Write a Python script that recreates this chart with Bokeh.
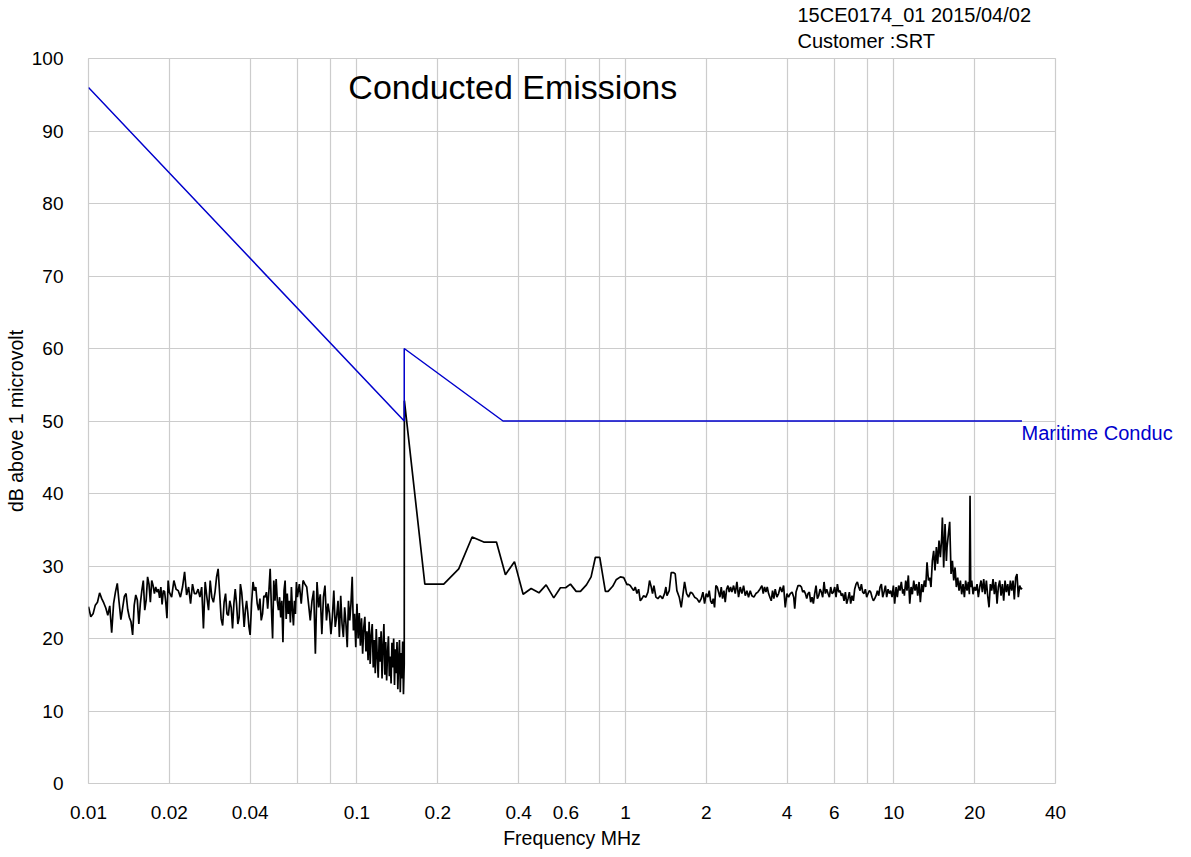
from bokeh.plotting import figure
from bokeh.models import FixedTicker, Label, Range1d, LinearAxis, Title
from bokeh.embed import file_html
from bokeh.resources import INLINE

# ---------------- data ----------------
# Limit line: Maritime conducted emissions
limit_freq_mhz = [0.01, 0.15, 0.15, 0.35, 30.0]
limit_level_db = [96.0, 50.0, 60.0, 50.0, 50.0]

# Measured scan, 10 kHz - 150 kHz
scan_freq_low = [
    0.0100, 0.0102, 0.0104, 0.0106, 0.0108, 0.0110, 0.0112, 0.0114, 0.0116, 0.0118,
    0.0120, 0.0122, 0.0124, 0.0126, 0.0128, 0.0130, 0.0132, 0.0134, 0.0136, 0.0138,
    0.0140, 0.0142, 0.0144, 0.0146, 0.0148, 0.0150, 0.0152, 0.0154, 0.0156, 0.0158,
    0.0160, 0.0162, 0.0164, 0.0166, 0.0168, 0.0170, 0.0172, 0.0174, 0.0176, 0.0178,
    0.0180, 0.0182, 0.0184, 0.0186, 0.0188, 0.0190, 0.0192, 0.0194, 0.0196, 0.0198,
    0.0200, 0.0204, 0.0208, 0.0212, 0.0216, 0.0220, 0.0224, 0.0228, 0.0232, 0.0236,
    0.0240, 0.0244, 0.0248, 0.0252, 0.0256, 0.0260, 0.0264, 0.0268, 0.0272, 0.0276,
    0.0280, 0.0284, 0.0288, 0.0292, 0.0296, 0.0300, 0.0304, 0.0308, 0.0312, 0.0316,
    0.0320, 0.0324, 0.0328, 0.0332, 0.0336, 0.0340, 0.0344, 0.0348, 0.0352, 0.0356,
    0.0360, 0.0364, 0.0368, 0.0372, 0.0376, 0.0380, 0.0384, 0.0388, 0.0392, 0.0396,
    0.0400, 0.0405, 0.0410, 0.0415, 0.0420, 0.0425, 0.0430, 0.0435, 0.0440, 0.0445,
    0.0450, 0.0455, 0.0460, 0.0465, 0.0470, 0.0475, 0.0480, 0.0485, 0.0490, 0.0495,
    0.0500, 0.0505, 0.0510, 0.0515, 0.0520, 0.0525, 0.0530, 0.0535, 0.0540, 0.0545,
    0.0550, 0.0555, 0.0560, 0.0565, 0.0570, 0.0575, 0.0580, 0.0585, 0.0590, 0.0595,
    0.060, 0.061, 0.062, 0.063, 0.064, 0.065, 0.066, 0.067, 0.068, 0.069,
    0.070, 0.071, 0.072, 0.073, 0.074, 0.075, 0.076, 0.077, 0.078, 0.079,
    0.080, 0.081, 0.082, 0.083, 0.084, 0.085, 0.086, 0.087, 0.088, 0.089,
    0.090, 0.091, 0.092, 0.093, 0.094, 0.095, 0.096, 0.097, 0.098, 0.099,
    0.100, 0.101, 0.102, 0.103, 0.104, 0.105, 0.106, 0.107, 0.108, 0.109,
    0.110, 0.111, 0.112, 0.113, 0.114, 0.115, 0.116, 0.117, 0.118, 0.119,
    0.120, 0.121, 0.122, 0.123, 0.124, 0.125, 0.126, 0.127, 0.128, 0.129,
    0.130, 0.131, 0.132, 0.133, 0.134, 0.135, 0.136, 0.137, 0.138, 0.139,
    0.140, 0.141, 0.142, 0.143, 0.144, 0.145, 0.146, 0.147, 0.148, 0.149,
    0.150,
]
scan_level_low = [
    24.4, 23.0, 23.4, 24.6, 25.0, 26.3, 25.5, 24.9, 24.2, 23.2,
    24.5, 20.8, 24.8, 26.4, 27.6, 25.0, 22.6, 24.2, 25.8, 26.2,
    24.0, 22.9, 22.3, 20.5, 24.6, 26.0, 25.3, 22.0, 24.8, 26.6,
    28.0, 23.9, 25.3, 28.5, 27.5, 25.0, 28.0, 27.3, 26.2, 27.1,
    26.4, 26.8, 25.6, 27.1, 24.7, 26.6, 26.5, 25.0, 22.8, 28.0,
    26.4, 25.7, 28.0, 26.8, 26.6, 25.7, 27.1, 29.2, 26.0, 27.1,
    24.8, 27.5, 26.2, 26.2, 26.8, 25.7, 27.1, 21.4, 27.8, 25.7,
    23.9, 28.0, 25.7, 25.0, 26.4, 28.5, 29.6, 26.2, 22.7, 21.8,
    25.0, 26.2, 23.4, 23.2, 25.2, 24.3, 21.4, 24.8, 26.8, 24.8,
    22.0, 22.9, 27.5, 26.4, 24.3, 21.6, 23.9, 25.2, 23.6, 21.6,
    20.5, 24.8, 27.8, 26.6, 27.1, 24.8, 23.9, 25.5, 22.5, 23.4,
    25.9, 25.7, 26.4, 24.1, 26.6, 29.6, 24.3, 20.0, 28.0, 25.2,
    28.2, 25.2, 23.9, 25.7, 22.9, 25.2, 19.5, 26.6, 28.0, 22.7,
    26.2, 23.4, 25.2, 22.2, 27.1, 23.9, 21.8, 25.2, 23.4, 27.8,
    25.7, 27.5, 24.8, 28.0, 27.5, 27.1, 24.8, 22.5, 25.2, 26.6,
    17.9, 27.8, 24.3, 26.1, 20.6, 25.7, 27.3, 22.5, 24.8, 23.4,
    20.6, 23.0, 26.6, 21.6, 23.0, 25.2, 20.2, 25.9, 22.0, 20.2,
    24.3, 22.0, 18.8, 25.2, 22.5, 24.8, 28.5, 21.1, 23.4, 18.8,
    24.8, 20.0, 23.5, 19.0, 22.8, 17.9, 21.5, 23.0, 18.2, 21.0,
    17.0, 22.3, 16.5, 20.5, 22.0, 16.0, 19.8, 15.2, 21.3, 17.5,
    14.6, 20.2, 16.8, 21.0, 14.5, 18.9, 22.0, 15.0, 19.5, 14.2,
    18.0, 20.3, 14.8, 17.5, 13.8, 19.4, 16.0, 20.0, 13.6, 18.5,
    15.2, 19.5, 13.0, 17.0, 19.8, 12.6, 18.0, 14.5, 19.6, 12.3,
    16.5,
]

# Measured scan, 150 kHz - 1 MHz
scan_freq_mid = [
    0.1502, 0.179, 0.2105, 0.2394, 0.2685, 0.2967, 0.3308, 0.3573, 0.3861, 0.4159,
    0.4455, 0.4763, 0.5065, 0.5408, 0.5727, 0.5986, 0.6240, 0.6553, 0.680, 0.7158,
    0.7450, 0.7730, 0.8024, 0.8421, 0.862, 0.8966, 0.9235, 0.9581, 0.9856, 1.0146,
]
scan_level_mid = [
    52.8, 27.5, 27.5, 29.6, 34.0, 33.3, 33.3, 28.8, 30.6, 26.1,
    26.9, 26.3, 27.4, 25.6, 27.0, 27.0, 27.5, 26.5, 26.5, 27.4,
    28.5, 31.2, 31.2, 26.5, 26.5, 27.2, 28.1, 28.5, 28.4, 27.4,
]

# Measured scan, 1 MHz - 30 MHz
scan_freq_high = [
    1.022, 1.042, 1.073, 1.088, 1.104, 1.120, 1.136, 1.152, 1.169, 1.192,
    1.213, 1.230, 1.248, 1.262, 1.277, 1.299, 1.321, 1.348, 1.375, 1.399,
    1.415, 1.428, 1.456, 1.481, 1.512, 1.533, 1.555, 1.587, 1.614, 1.633,
    1.661, 1.690, 1.719, 1.749, 1.779, 1.810, 1.846, 1.884, 1.916, 1.944,
    1.972, 2.000, 2.029, 2.052, 2.076, 2.100, 2.124, 2.148, 2.173, 2.198,
    2.223, 2.249, 2.275, 2.301, 2.328, 2.354, 2.382, 2.409, 2.436, 2.464,
    2.492, 2.529, 2.565, 2.602, 2.639, 2.677, 2.716, 2.755, 2.795, 2.835,
    2.875, 2.917, 2.958, 3.010, 3.062, 3.115, 3.169, 3.224, 3.261, 3.298,
    3.337, 3.375, 3.414, 3.453, 3.493, 3.533, 3.573, 3.614, 3.666, 3.720,
    3.773, 3.827, 3.883, 3.939, 3.996, 4.053, 4.112,
    4.176, 4.236, 4.273, 4.321, 4.396, 4.472, 4.524, 4.576, 4.628, 4.682,
    4.736, 4.789, 4.845, 4.901, 4.956, 5.013, 5.071, 5.129, 5.188, 5.248,
    5.309, 5.370, 5.431, 5.494, 5.557, 5.621, 5.686, 5.751, 5.817, 5.884,
    5.952, 6.020, 6.089, 6.160, 6.230, 6.302, 6.375, 6.447, 6.522, 6.597,
    6.672, 6.749, 6.827, 6.905, 6.984, 7.065, 7.145, 7.228, 7.311, 7.396,
    7.482, 7.568, 7.654, 7.743, 7.832, 7.921, 8.013, 8.106, 8.198, 8.293,
    8.389, 8.484, 8.582, 8.682, 8.780, 8.882, 8.985, 9.087, 9.192, 9.299,
    9.404, 9.513, 9.623, 9.732, 9.845, 9.959, 10.07, 10.19, 10.30, 10.42,
    10.54, 10.66, 10.79, 10.91,
    10.94, 11.07, 11.19, 11.32, 11.46, 11.59, 11.72, 11.86, 11.99, 12.13,
    12.27, 12.41, 12.55, 12.70, 12.84, 12.99, 13.14, 13.29, 13.45, 13.60,
    13.75, 13.91, 14.07, 14.23, 14.40, 14.56, 14.73, 14.90, 15.07, 15.16,
    15.33, 15.51, 15.69, 15.78, 15.96, 16.14, 16.33, 16.52, 16.71, 16.90,
    17.09, 17.29, 17.49, 17.69, 17.89, 18.10, 18.31, 18.51, 18.73, 18.94,
    19.11, 19.22, 19.33, 19.50, 19.72, 19.95, 20.18, 20.41, 20.64, 20.88,
    21.12, 21.36, 21.61, 21.86, 22.11, 22.36, 22.62, 22.88, 23.14, 23.41,
    23.68, 23.95, 24.23, 24.50, 24.79, 25.07, 25.36, 25.65, 25.95, 26.24,
    26.55, 26.85, 27.16, 27.47, 27.79, 28.10, 28.43, 28.75, 29.08, 29.42,
    29.76, 30.00,
]
scan_level_high = [
    27.5, 27.3, 26.6, 27.1, 26.2, 26.8, 25.2, 25.5, 25.9, 25.7,
    26.4, 28.0, 27.1, 26.2, 27.3, 25.7, 25.5, 25.9, 25.5, 26.2,
    27.1, 25.9, 26.6, 29.1, 29.1, 28.9, 26.6, 25.7, 24.3, 25.7,
    27.8, 26.2, 25.7, 26.4, 26.2, 25.7, 25.5, 25.0, 25.5, 26.4,
    24.8, 26.2, 25.7, 26.6, 25.2, 24.8, 25.5, 24.3, 27.3, 27.1,
    26.4, 25.7, 27.1, 25.5, 26.6, 25.0, 26.8, 27.3, 26.4, 27.1,
    26.4, 27.3, 26.2, 27.8, 25.7, 27.1, 26.2, 27.3, 25.9, 26.6,
    25.7, 26.6, 25.9, 25.7, 26.2, 26.4, 26.8, 27.3, 26.2, 27.1,
    26.4, 27.1, 26.2, 25.7, 25.2, 26.6, 25.5, 26.8, 25.7, 26.2,
    27.1, 26.4, 27.3, 24.3, 26.2, 25.7, 26.2,
    26.4, 25.7, 24.1, 26.4, 27.3, 27.3, 27.1, 26.4, 26.6, 26.2,
    25.5, 26.2, 26.4, 25.0, 25.7, 24.8, 26.2, 27.3, 25.5, 25.9,
    26.8, 26.4, 25.7, 27.8, 26.2, 26.8, 26.2, 25.7, 27.1, 26.2,
    26.4, 27.1, 25.7, 27.5, 26.4, 26.6, 25.9, 26.2, 25.2, 26.4,
    24.8, 25.5, 26.4, 24.8, 25.9, 25.2, 26.8, 27.5, 27.8, 27.1,
    26.6, 27.5, 26.4, 26.2, 26.8, 25.7, 26.2, 26.6, 26.4, 25.7,
    25.2, 25.5, 25.9, 26.6, 25.9, 27.1, 27.5, 25.7, 26.4, 27.3,
    25.7, 26.8, 26.2, 26.6, 25.7, 27.3, 24.8, 27.1, 25.7, 27.3,
    26.6, 27.8, 26.2, 26.8,
    25.9, 28.0, 26.6, 28.7, 24.8, 27.1, 26.1, 28.0, 26.6, 27.5,
    25.9, 27.8, 25.0, 27.5, 26.4, 28.0, 27.1, 30.5, 28.0, 28.4,
    27.1, 30.7, 32.1, 29.4, 32.6, 30.3, 33.5, 31.2, 33.9, 36.7,
    29.8, 35.8, 30.7, 32.6, 34.4, 36.1, 28.9, 30.7, 28.0, 29.8,
    27.1, 28.4, 26.6, 28.0, 26.1, 27.5, 25.7, 28.0, 26.6, 27.8,
    26.1, 39.7, 27.1, 28.0, 26.1, 27.1, 26.6, 27.5, 25.7, 27.1,
    28.0, 26.4, 28.2, 26.1, 28.0, 25.9, 24.3, 27.5, 26.6, 28.2,
    26.1, 27.8, 24.8, 27.1, 28.0, 25.9, 27.5, 25.2, 28.0, 26.4,
    27.5, 25.9, 28.0, 26.6, 28.0, 25.4, 28.4, 28.9, 25.7, 27.3,
    26.8, 27.0,
]

x_tick_values = [0.01, 0.02, 0.04, 0.06, 0.08, 0.1, 0.2, 0.4, 0.6, 0.8,
                 1, 2, 4, 6, 8, 10, 20, 40]
x_tick_labels = ["0.01", "0.02", "0.04", "", "", "0.1", "0.2", "0.4", "0.6", "",
                 "1", "2", "4", "6", "", "10", "20", "40"]
y_tick_values = [0, 10, 20, 30, 40, 50, 60, 70, 80, 90, 100]

limit_name = "Maritime Conduc"
header_lines = ["15CE0174_01 2015/04/02", "Customer :SRT"]
chart_title = "Conducted Emissions"

scan_freq = scan_freq_low + scan_freq_mid + scan_freq_high
scan_level = scan_level_low + scan_level_mid + scan_level_high

# ---------------- figure ----------------
FONT = "Liberation Sans"
GRID = "#cccccc"
BLUE = "#0000cc"

p = figure(width=1175, height=856, x_axis_type="log",
           x_range=Range1d(0.01, 40), y_range=Range1d(0, 100),
           output_backend="svg", toolbar_location=None,
           min_border_left=88, min_border_right=120,
           min_border_top=58, min_border_bottom=73)
p.background_fill_color = "white"
p.border_fill_color = "white"
p.outline_line_color = GRID
p.outline_line_width = 1.2

p.xaxis.ticker = FixedTicker(ticks=x_tick_values, minor_ticks=[])
p.yaxis.ticker = FixedTicker(ticks=y_tick_values, minor_ticks=[])
p.xaxis.major_label_overrides = {v: s for v, s in zip(x_tick_values, x_tick_labels)}
p.yaxis.major_label_overrides = {v: str(v) for v in y_tick_values}

for ax in (p.xaxis[0], p.yaxis[0]):
    ax.axis_line_color = None
    ax.major_tick_line_color = None
    ax.minor_tick_line_color = None
    ax.major_tick_out = 0
    ax.major_tick_in = 0
    ax.minor_tick_out = 0
    ax.major_label_text_font = FONT
    ax.major_label_text_font_size = "19px"
    ax.major_label_text_color = "black"
    ax.axis_label_text_font = FONT
    ax.axis_label_text_font_size = "19.5px"
    ax.axis_label_text_font_style = "normal"
    ax.axis_label_text_color = "black"

p.xaxis.axis_label = "Frequency MHz"
p.yaxis.axis_label = "dB above 1 microvolt"
p.xaxis.major_label_standoff = 22
p.xaxis.axis_label_standoff = 5
p.yaxis.major_label_standoff = 25
p.yaxis.axis_label_standoff = 2

p.xgrid.grid_line_color = GRID
p.ygrid.grid_line_color = GRID
p.xgrid.grid_line_width = 1.2
p.ygrid.grid_line_width = 1.2

p.line(scan_freq, scan_level, line_color="black", line_width=1.7)
p.line(limit_freq_mhz, limit_level_db, line_color=BLUE, line_width=1.5)

# limit line name, at the end of the limit line (drawn as a right-side axis label
# so that it may run past the plotting area, as in the reference)
name_axis = LinearAxis(ticker=FixedTicker(ticks=[48.4], minor_ticks=[]),
                       major_label_overrides={48.4: limit_name})
name_axis.axis_line_color = None
name_axis.major_tick_line_color = None
name_axis.minor_tick_line_color = None
name_axis.major_tick_out = 0
name_axis.major_tick_in = 0
name_axis.major_label_standoff = -34
name_axis.major_label_text_color = BLUE
name_axis.major_label_text_font = FONT
name_axis.major_label_text_font_size = "20px"
p.add_layout(name_axis, "right")

# header lines above the plot, right part
p.add_layout(Title(text=header_lines[1], align="left", offset=709, standoff=14,
                   text_font=FONT, text_font_size="20px", text_font_style="normal",
                   text_color="black"), "above")
p.add_layout(Title(text=header_lines[0], align="left", offset=709, standoff=-10,
                   text_font=FONT, text_font_size="20px", text_font_style="normal",
                   text_color="black"), "above")

p.add_layout(Label(x=0.0929, y=96.1, text=chart_title, text_color="black",
                   text_font=FONT, text_font_size="34px",
                   text_baseline="alphabetic"))

open("out.html", "w").write(file_html(p, INLINE))
